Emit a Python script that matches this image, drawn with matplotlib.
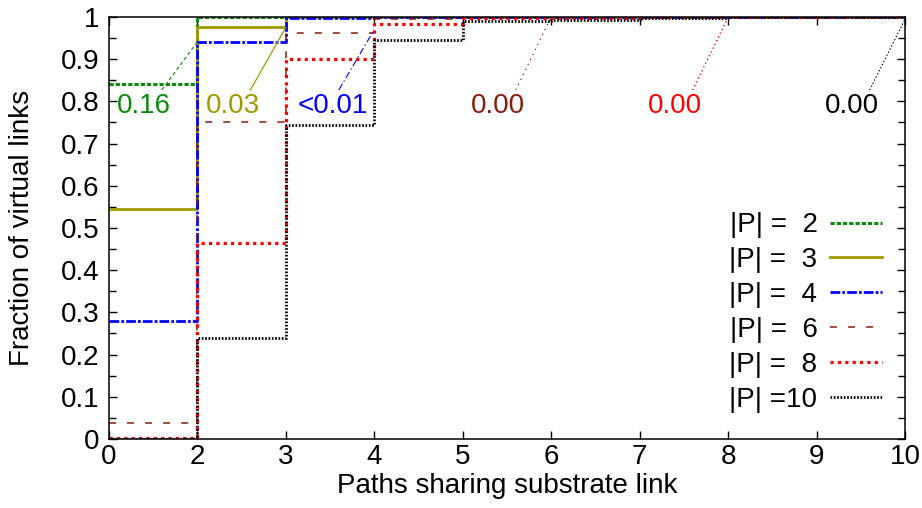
import matplotlib
matplotlib.use('Agg')
import matplotlib.pyplot as plt
import numpy as np
from matplotlib.ticker import MultipleLocator

plt.rcParams['font.family'] = ['Liberation Sans', 'DejaVu Sans']
plt.rcParams['lines.scale_dashes'] = False

# x categories (evenly spaced on the axis)
paths = [0, 2, 3, 4, 5, 6, 7, 8, 9, 10]

p2 = [0.841, 1, 1, 1, 1, 1, 1, 1, 1, 1]
p3 = [0.545, 0.977, 1, 1, 1, 1, 1, 1, 1, 1]
p4 = [0.279, 0.941, 0.998, 1, 1, 1, 1, 1, 1, 1]
p6 = [0.037, 0.752, 0.961, 0.995, 1, 1, 1, 1, 1, 1]
p8 = [0.003, 0.465, 0.900, 0.983, 0.997, 0.998, 0.999, 1, 1, 1]
p10 = [0.0, 0.240, 0.744, 0.945, 0.991, 0.994, 0.998, 0.999, 0.999, 1]

labels = ['|P| =  2', '|P| =  3', '|P| =  4', '|P| =  6', '|P| =  8', '|P| =10']
notes = ['0.16', '0.03', '<0.01', '0.00', '0.00', '0.00']
note_target = [2, 3, 4, 6, 8, 10]
note_target_y = [0.941, 0.975, 0.97, 1.0, 1.0, 0.995]

colors = ['#0a8a0a', '#a09a00', '#0000ff', '#8b1a0a', '#ff0000', '#000000']
styles = [
    dict(lw=2.2, ls=(0, (3.0, 1.5))),
    dict(lw=2.0, ls='-'),
    dict(lw=2.0, ls=(0, (7, 1.5, 2, 1.5))),
    dict(lw=1.1, ls=(0, (5, 8))),
    dict(lw=2.3, ls=(0, (2.3, 3.0))),
    dict(lw=2.0, ls=(0, (1.2, 1.2))),
]
note_styles = [
    dict(lw=0.8, ls=(0, (2.5, 2))),
    dict(lw=0.9, ls='-'),
    dict(lw=0.8, ls=(0, (5, 2, 1, 2))),
    dict(lw=0.8, ls=(0, (1, 3))),
    dict(lw=0.9, ls=(0, (1, 2))),
    dict(lw=0.8, ls=(0, (1, 1.5))),
]

series = [p2, p3, p4, p6, p8, p10]
idx = np.arange(len(paths))
fs = 20

fig = plt.figure(figsize=(9.22, 5.08), dpi=100)
ax = fig.add_axes([0.118, 0.136, 0.8636, 0.8305])

for vals, c, st, lab in zip(series, colors, styles, labels):
    ax.step(idx, vals, where='post', color=c, label=lab, **st)

for i, (txt, tx, ty, c, st) in enumerate(zip(notes, note_target, note_target_y, colors, note_styles)):
    xi = paths.index(tx)
    base = xi - 1 if xi > 0 else 0
    tcx = base + 0.4 if i != 2 else base + 0.53
    ax.text(tcx, 0.79, txt, color=c, fontsize=fs, ha='center', va='center')
    ax.plot([base + 0.6, xi], [0.827, ty], color=c, **st)

ax.set_xlim(0, 9)
ax.set_ylim(0, 1)
ax.set_xticks(idx)
ax.set_xticklabels([str(p) for p in paths])
ax.yaxis.set_minor_locator(MultipleLocator(0.05))
ax.set_yticks(np.round(np.arange(0, 1.01, 0.1), 2))
ax.set_yticklabels(['0'] + ['%.1f' % v for v in np.arange(0.1, 0.95, 0.1)] + ['1'])

ax.tick_params(which='both', direction='in', top=True, right=True, width=1.0,
               labelsize=fs)
ax.tick_params(which='major', length=5.5)
ax.tick_params(which='minor', length=5)
ax.tick_params(axis='y', pad=7)
ax.tick_params(axis='x', pad=4)
for s in ax.spines.values():
    s.set_linewidth(1.1)

ax.set_xlabel('Paths sharing substrate link', fontsize=fs)
ax.set_ylabel('Fraction of virtual links', fontsize=fs)
ax.xaxis.set_label_coords(0.5, -0.08)
ax.yaxis.set_label_coords(-0.093, 0.5)

leg = ax.legend(loc='lower right', bbox_to_anchor=(0.971, 0.062), frameon=False,
                fontsize=fs, handlelength=1.87, handletextpad=0.45,
                markerfirst=False, labelspacing=0.32, borderpad=0, borderaxespad=0)

fig.savefig('out.png', dpi=100, facecolor='white')
